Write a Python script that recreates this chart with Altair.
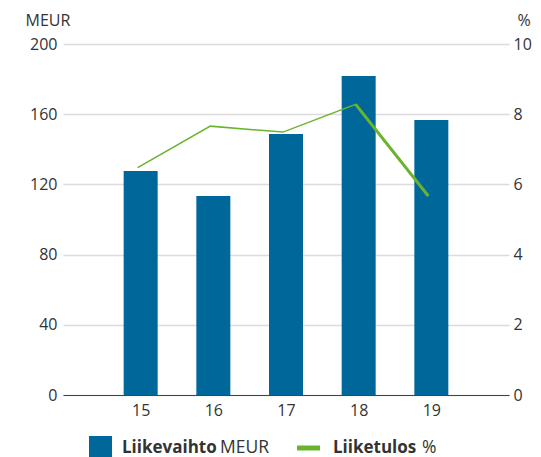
import altair as alt
import pandas as pd

years = [15, 16, 17, 18, 19]
revenue = [127.6, 113.4, 148.7, 181.8, 156.7]   # Liikevaihto MEUR
ebit_pct = [6.48, 7.66, 7.49, 8.28, 5.67]        # Liiketulos %

BLUE = "#00679b"
GREEN = "#6ab42d"
FONT = "Open Sans"
TXT = "#333333"

df = pd.DataFrame({"year": years, "rev": revenue, "pct": ebit_pct})
df_hi = df[df["year"] >= 18]

xscale = alt.Scale(domain=[14, 20], nice=False, zero=False)
xaxis = alt.Axis(values=years, format="d", grid=False, ticks=False, domain=True,
                 domainColor="#444444", domainWidth=1, labelFontSize=16, labelFont=FONT,
                 labelColor=TXT, labelPadding=7, title=None)

bars = alt.Chart(df).mark_bar(color=BLUE, size=34).encode(
    x=alt.X("year:Q", scale=xscale, axis=xaxis),
    y=alt.Y("rev:Q", scale=alt.Scale(domain=[0, 200], nice=False),
            axis=alt.Axis(values=[0, 40, 80, 120, 160, 200], orient="left", grid=True,
                          gridColor="#dcdcdc", gridWidth=1.5, ticks=False, domain=False,
                          labelFontSize=16, labelFont=FONT, labelColor=TXT, labelPadding=6,
                          title="MEUR", titleAngle=0, titleAlign="left", titleBaseline="middle",
                          titleX=-38, titleY=-24, titleFont=FONT, titleFontSize=16,
                          titleFontWeight="normal", titleColor=TXT)),
)

line = alt.Chart(df).mark_line(color=GREEN, strokeWidth=1.5, xOffset=-3).encode(
    x=alt.X("year:Q", scale=xscale),
    y=alt.Y("pct:Q", scale=alt.Scale(domain=[0, 10], nice=False),
            axis=alt.Axis(values=[0, 2, 4, 6, 8, 10], orient="right", grid=False, ticks=False,
                          domain=False, labelFontSize=16, labelFont=FONT, labelColor=TXT,
                          labelPadding=4, title="%", titleAngle=0, titleAlign="left",
                          titleBaseline="middle", titleX=8, titleY=-24, titleFont=FONT,
                          titleFontSize=16, titleFontWeight="normal", titleColor=TXT)),
)
line_hi = alt.Chart(df_hi).mark_line(color=GREEN, strokeWidth=3, xOffset=-3).encode(
    x=alt.X("year:Q", scale=xscale),
    y=alt.Y("pct:Q", scale=alt.Scale(domain=[0, 10], nice=False), axis=None),
)

one = pd.DataFrame({"a": [0]})
leg_sq = alt.Chart(one).mark_rect(color=BLUE).encode(
    x=alt.value(26), x2=alt.value(49), y=alt.value(392), y2=alt.value(414))
leg_ln = alt.Chart(one).mark_rule(color=GREEN, strokeWidth=5).encode(
    x=alt.value(234), x2=alt.value(257), y=alt.value(404))

def txt(s, x, bold):
    return alt.Chart(one).mark_text(text=s, align="left", baseline="middle", font=FONT,
                                    fontSize=17 if bold else 17.5,
                                    fontWeight="bold" if bold else "normal",
                                    color=TXT).encode(x=alt.value(x), y=alt.value(404))

chart = alt.layer(
    bars, line, line_hi, leg_sq, leg_ln,
    txt("Liikevaihto", 59, True), txt("MEUR", 157, False),
    txt("Liiketulos", 270, True), txt("%", 359, False),
).resolve_scale(y="independent").resolve_axis(y="independent").properties(
    width=446, height=351,
    padding={"left": 55, "top": 36, "right": 24, "bottom": 70},
    autosize=alt.AutoSizeParams(type="none"),
).configure_view(stroke=None)

chart.save("out.html", embed_options={"renderer": "svg", "actions": False})
